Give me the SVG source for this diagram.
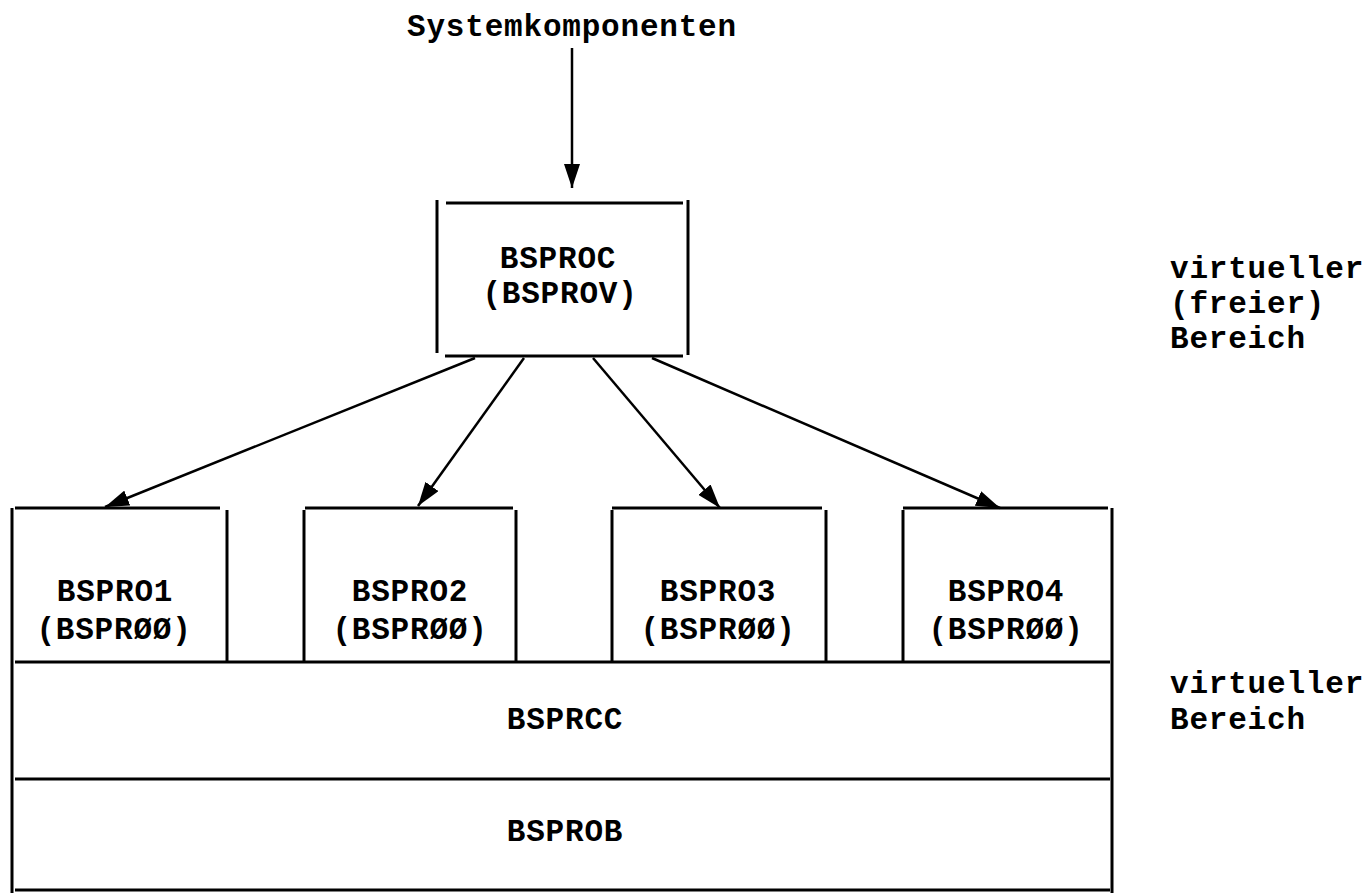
<svg xmlns="http://www.w3.org/2000/svg" width="1366" height="893" viewBox="0 0 1366 893">
<style>
.ln{stroke:#000;stroke-width:3;fill:none;stroke-linecap:butt}
.cn{stroke:#000;stroke-width:2.5;fill:none}
.t{font-family:"Liberation Mono","DejaVu Sans Mono",monospace;font-size:31px;fill:#000;font-weight:bold;letter-spacing:0.8px}
.c{text-anchor:middle}
</style>
<defs>
<marker id="ah" viewBox="0 0 24 16" refX="24" refY="8" markerWidth="24" markerHeight="16" markerUnits="userSpaceOnUse" orient="auto">
<path d="M0,0 L24,8 L0,16 Z" fill="#000"/>
</marker>
</defs>
<rect width="1366" height="893" fill="#fff"/>
<text class="t c" x="572" y="36">Systemkomponenten</text>
<g id="bsproc">
<line class="ln" x1="446" y1="203" x2="683" y2="203"/>
<line class="ln" x1="437" y1="200" x2="437" y2="353"/>
<line class="ln" x1="688" y1="200" x2="688" y2="355"/>
<line class="ln" x1="445" y1="356" x2="683" y2="356"/>
<text class="t c" x="558" y="268">BSPROC</text>
<text class="t c" x="560" y="303">(BSPROV)</text>
</g>
<g id="bspro1">
<line class="ln" x1="15" y1="508" x2="220" y2="508"/>
<line class="ln" x1="227" y1="510" x2="227" y2="662"/>
<text class="t c" x="115" y="601">BSPRO1</text>
<text class="t c" x="114" y="639">(BSPRØØ)</text>
</g>
<g id="bspro2">
<line class="ln" x1="305" y1="508" x2="513" y2="508"/>
<line class="ln" x1="304" y1="510" x2="304" y2="662"/>
<line class="ln" x1="516" y1="510" x2="516" y2="662"/>
<text class="t c" x="410" y="601">BSPRO2</text>
<text class="t c" x="410" y="639">(BSPRØØ)</text>
</g>
<g id="bspro3">
<line class="ln" x1="612" y1="508" x2="822" y2="508"/>
<line class="ln" x1="612" y1="510" x2="612" y2="662"/>
<line class="ln" x1="826" y1="510" x2="826" y2="662"/>
<text class="t c" x="718" y="601">BSPRO3</text>
<text class="t c" x="718" y="639">(BSPRØØ)</text>
</g>
<g id="bspro4">
<line class="ln" x1="903" y1="508" x2="1108" y2="508"/>
<line class="ln" x1="903" y1="510" x2="903" y2="662"/>
<text class="t c" x="1006" y="601">BSPRO4</text>
<text class="t c" x="1006" y="639">(BSPRØØ)</text>
</g>
<g id="bsprcc">
<line class="ln" x1="12" y1="508" x2="12" y2="893"/>
<line class="ln" x1="1112" y1="508" x2="1112" y2="893"/>
<line class="ln" x1="15" y1="662" x2="1110" y2="662"/>
<text class="t c" x="565" y="729">BSPRCC</text>
</g>
<g id="bsprob">
<line class="ln" x1="15" y1="779" x2="1110" y2="779"/>
<line class="ln" x1="15" y1="890" x2="1110" y2="890"/>
<text class="t c" x="565" y="841">BSPROB</text>
</g>
<g id="labels">
<text class="t" x="1170" y="278">virtueller</text>
<text class="t" x="1170" y="313">(freier)</text>
<text class="t" x="1170" y="348">Bereich</text>
<text class="t" x="1170" y="693">virtueller</text>
<text class="t" x="1170" y="729">Bereich</text>
</g>
<g id="connectors">
<line class="cn" x1="572" y1="48" x2="572" y2="188" marker-end="url(#ah)"/>
<line class="cn" x1="475" y1="358" x2="105" y2="507" marker-end="url(#ah)"/>
<line class="cn" x1="524" y1="358" x2="418" y2="506" marker-end="url(#ah)"/>
<line class="cn" x1="593" y1="358" x2="720" y2="508" marker-end="url(#ah)"/>
<line class="cn" x1="652" y1="358" x2="1000" y2="508" marker-end="url(#ah)"/>
</g>
</svg>
